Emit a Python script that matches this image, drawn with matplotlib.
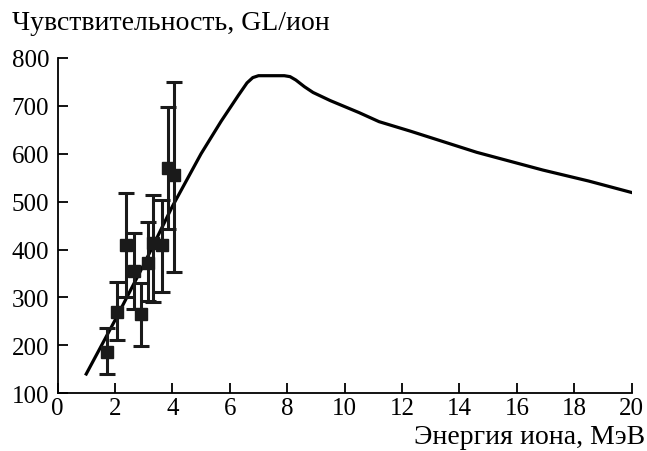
import numpy as np
from matplotlib import pyplot as plt

# экспериментальные точки
energy = [1.72, 2.06, 2.38, 2.68, 2.91, 3.16, 3.32, 3.63, 3.86, 4.07]
sens = [185, 269, 409, 355, 266, 372, 413, 409, 570, 556]
sens_low = [140, 210, 300, 276, 198, 292, 290, 312, 443, 354]
sens_high = [236, 333, 519, 435, 329, 458, 514, 503, 697, 750]

# расчетная кривая
curve_e = [1.0, 2.0, 3.0, 4.0, 5.0, 5.7, 6.3, 6.6, 6.8, 7.0, 7.9, 8.1, 8.3,
           8.6, 8.9, 9.5, 10.5, 11.2, 12.3, 14.6, 16.9, 18.5, 20.0]
curve_s = [140, 252, 368, 490, 600, 668, 722, 748, 759, 763, 763, 761, 754,
           740, 728, 711, 686, 667, 647, 603, 566, 543, 519]

plt.rcParams['font.family'] = ['Liberation Serif', 'DejaVu Serif']
plt.rcParams['font.size'] = 18

fig = plt.figure(figsize=(6.47, 4.52), dpi=100)
ax = fig.add_axes([0.0889, 0.128, 0.8875, 0.7415])

ax.plot(curve_e, curve_s, color='black', lw=2.3, solid_joinstyle='round')

y = np.array(sens)
yerr = [y - np.array(sens_low), np.array(sens_high) - y]
ax.errorbar(energy, sens, yerr=yerr, fmt='s', color='#1a1a1a', ms=8,
            elinewidth=2.2, capsize=6, capthick=2.2, zorder=3)

ax.set_xlim(0, 20)
ax.set_ylim(100, 800)
ax.set_xticks(range(0, 21, 2))
ax.set_yticks(range(100, 801, 100))
ax.spines['top'].set_visible(False)
ax.spines['right'].set_visible(False)
for s in ['left', 'bottom']:
    ax.spines[s].set_linewidth(1.3)
ax.tick_params(axis='both', direction='in', length=7.5, width=1.3)
ax.tick_params(axis='y', pad=6)
ax.tick_params(axis='x', pad=3)

fig.text(0.019, 0.948, 'Чувствительность, GL/ион', ha='left', va='center',
         fontsize=20)
fig.text(0.997, 0.033, 'Энергия иона, МэВ', ha='right', va='center',
         fontsize=20)

plt.savefig('out.png', dpi=100)
